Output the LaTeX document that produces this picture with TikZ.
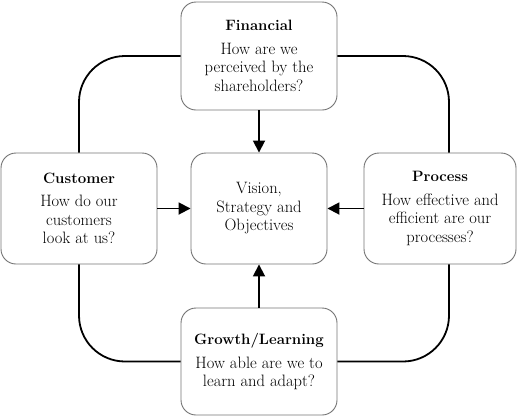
\documentclass[tikz,border=0pt]{standalone}
\usetikzlibrary{arrows.meta}
\newcommand{\boxtitle}[1]{{\fontsize{15}{18.5}\selectfont\bfseries #1}}
\begin{document}
\begin{tikzpicture}[x=1pt,y=-1pt,
  box/.style={draw=black!55, line width=0.9pt, rounded corners=15pt, align=center,
    inner sep=0pt, font=\fontsize{16.5}{18.5}\selectfont},
  loop/.style={line width=1.8pt, rounded corners=46pt},
  arr/.style={line width=1.8pt, -{Triangle[width=12pt,length=12pt]}}]
\useasboundingbox (0,0) rectangle (518,418);
\node[box, minimum width=156pt, minimum height=108pt] (fin) at (259,56)
  {\boxtitle{Financial}\\[5pt] How are we\\ perceived by the\\ shareholders?};
\node[box, minimum width=136pt, minimum height=111pt] (cen) at (259,208.5)
  {Vision,\\ Strategy and\\ Objectives};
\node[box, minimum width=156pt, minimum height=111pt] (cus) at (79,208.5)
  {\boxtitle{Customer}\\[5pt] How do our\\ customers\\ look at us?};
\node[box, minimum width=152pt, minimum height=111pt] (pro) at (440,208.5)
  {\boxtitle{Process}\\[5pt] How effective and\\ efficient are our\\ processes?};
\node[box, minimum width=156pt, minimum height=107pt] (gro) at (259,361.5)
  {\boxtitle{Growth/Learning}\\[5pt] How able are we to\\ learn and adapt?};
\draw[loop] (fin.west) -| (cus.north);
\draw[loop] (fin.east) -| ([xshift=9pt]pro.north);
\draw[loop] (cus.south) |- (gro.west);
\draw[loop] ([xshift=9pt]pro.south) |- (gro.east);
\draw[arr] (fin.south) -- (cen.north);
\draw[arr] (cus.east) -- (cen.west);
\draw[arr] (pro.west) -- (cen.east);
\draw[arr] (gro.north) -- (cen.south);
\end{tikzpicture}
\end{document}
